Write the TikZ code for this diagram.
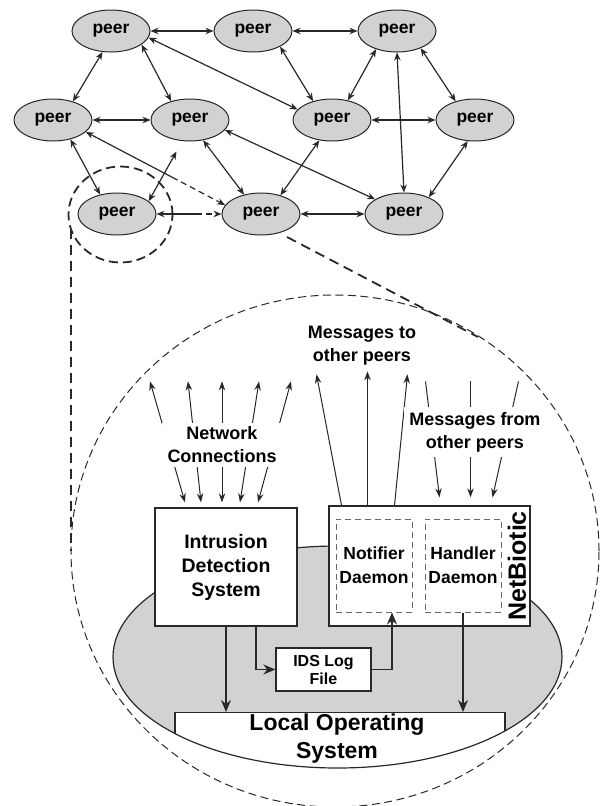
\documentclass[tikz,border=0pt]{standalone}
\usepackage{fontspec}
\setmainfont{Liberation Sans}
\usetikzlibrary{arrows.meta}
\usetikzlibrary{shapes.geometric}
\usetikzlibrary{calc}

\definecolor{ink}{RGB}{40,40,40}
\definecolor{hostgray}{RGB}{210,210,210}

\tikzset{
  peer/.style={ellipse, draw=ink, fill=hostgray, line width=1pt, minimum width=78pt, minimum height=42pt, inner sep=0pt, font=\bfseries\fontsize{17.5}{20}\selectfont},
  link/.style={<->, >={Stealth[length=8pt,width=6.5pt]}, draw=ink, line width=1.2pt},
  box/.style={rectangle, draw=ink, fill=white, line width=1.3pt, align=center, font=\bfseries\fontsize{19.5}{24}\selectfont},
  daemon/.style={rectangle, draw=ink!70, dash pattern=on 6pt off 4pt, line width=1pt, minimum width=76pt, minimum height=93pt, align=center, inner sep=0pt, font=\bfseries\fontsize{17.5}{24}\selectfont},
  flow/.style={->, >={Stealth[length=12pt,width=10pt]}, line width=1.8pt, draw=ink},
  msg/.style={>={Stealth[length=9pt,width=6.5pt]}, line width=1pt, draw=ink},
  msgtext/.style={align=center, font=\bfseries\fontsize{18}{23}\selectfont},
  zoomline/.style={draw=ink, line width=1.8pt, dash pattern=on 10pt off 6pt},
  bigring/.style={draw=ink, line width=1pt, dash pattern=on 8pt off 4.5pt}
}

\begin{document}
\begin{tikzpicture}[x=1pt, y=-1pt]
  \useasboundingbox (0,0) rectangle (602,806);

  % peer network
  \foreach \n/\px/\py in {1/111/31, 2/253/31, 3/397/31, 4/53/120, 5/190/120, 6/332/120, 7/475/120, 8/117/214, 9/261/214, 10/404/214}
    \node[peer] (p\n) at (\px,\py) {peer};
  \foreach \a/\b in {p1/p2, p2/p3, p4/p5, p6/p7, p9/p10, p1.-112/p4.43, p1.-24/p5.135, p1.-10/p6.163, p4.-48/p8.131, p5.-57/p9.131, p5.-16/p10.153, p6.-122/p9.44, p2.-30/p6.135, p3.-139/p6.51, p3.-90/p10.90, p3.-36/p7.136, p7.-109/p10.34}
    \draw[link] (\a) -- (\b);
  \draw[link, shorten <=12pt] (p5.-110) -- (p8.22);
  \coordinate (m49) at ($(p4.-20)!0.62!(p9.166)$);
  \coordinate (m89) at ($(p8.east)!0.6!(p9.west)$);
  \draw[link, <-] (p4.-20) -- (m49);
  \draw[link, ->, dash pattern=on 6pt off 4pt] (m49) -- (p9.166);
  \draw[link, <-] (p8) -- (m89);
  \draw[link, ->, dash pattern=on 6pt off 4pt] (m89) -- (p9);

  % zoom into one peer
  \draw[draw=ink, line width=1.8pt, dash pattern=on 9pt off 5pt] (120.5,214.5) ellipse [x radius=52pt, y radius=48pt];
  \draw[zoomline] (71,229) -- (71,551);
  \draw[zoomline] (287,237) -- (478,337);
  \draw[bigring] (335,551) ellipse [x radius=264pt, y radius=256pt];

  % host
  \fill[hostgray] (337.5,657) ellipse [x radius=224.5pt, y radius=111pt];
  \begin{scope}
    \clip (337.5,657) ellipse [x radius=224.5pt, y radius=111pt];
    \node[box, minimum width=330pt, minimum height=70pt, anchor=north] (los) at (340,712) {};
  \end{scope}
  \draw[ink, line width=1.2pt] (337.5,657) ellipse [x radius=224.5pt, y radius=111pt];
  \node[msgtext, font=\bfseries\fontsize{23}{28}\selectfont] (lostext) at (337,739) {Local Operating\\System};

  \node[box, minimum width=142pt, minimum height=118pt] (ids) at (226,567) {Intrusion\\Detection\\System};
  \node[box, minimum width=201pt, minimum height=120pt] (net) at (429.5,566) {};
  \node[daemon] (notif) at (374,565.5) {Notifier\\Daemon};
  \node[daemon] (hand) at (463,565.5) {Handler\\Daemon};
  \node[rotate=90, inner sep=0pt, font=\bfseries\fontsize{25}{25}\selectfont] (nbname) at (517,566) {NetBiotic};
  \node[box, minimum width=95pt, minimum height=43pt, inner sep=0pt, font=\bfseries\fontsize{16}{18}\selectfont] (log) at (323.5,669.5) {IDS Log\\File};

  \draw[flow] (ids.south) -- (ids.south |- los.north);
  \draw[flow] ([xshift=30pt]ids.south) |- (log.west);
  \draw[flow] (log.east) -| ([xshift=18pt]notif.south);
  \draw[flow] (hand.south) -- (hand.south |- los.north);

  % network connections
  \foreach \s/\dx in {-41/-35, -25/-13, -4/0, 14/19, 32/33}
    \draw[msg, <->] ([xshift=\s pt, yshift=5pt]ids.north) -- ++(\dx,-121);
  \node[msgtext, fill=white, inner xsep=6pt, inner ysep=4pt] (netconn) at (222,445) {Network\\Connections};

  % messages out and in
  \foreach \s/\dx/\dy in {-88/-25/-131, -62/0/-134, -35/13/-131}
    \draw[msg, ->] ([xshift=\s pt]net.north) -- ++(\dx,\dy);
  \node[msgtext] (msgout) at (362,346) {Messages to\\other peers};
  \foreach \s/\dx in {10/-14, 41/0, 63/26}
    \draw[msg, <-] ([xshift=\s pt, yshift=8pt]net.north) -- ++(\dx,-116);
  \node[msgtext, fill=white, inner sep=5pt] (msgin) at (475,432) {Messages from\\other peers};
\end{tikzpicture}
\end{document}
